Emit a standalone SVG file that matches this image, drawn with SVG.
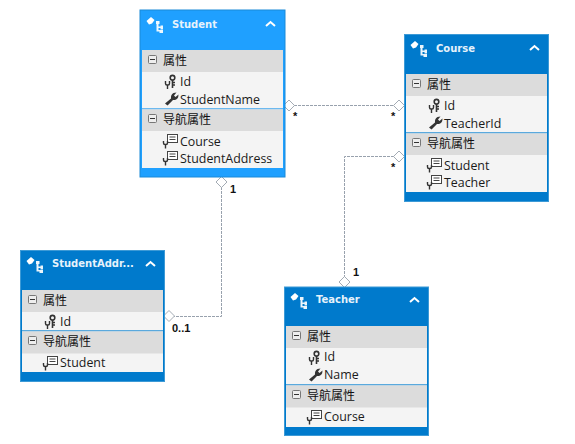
<svg xmlns="http://www.w3.org/2000/svg" width="575" height="444" viewBox="0 0 575 444">
<style>
text{font-family:"Open Sans","Noto Sans","Noto Sans CJK SC",sans-serif;font-size:12.4px;fill:#1a1a1a}
.cjk{font-family:"Noto Sans CJK SC",sans-serif;font-size:12px;fill:#111}
.t{font-family:"DejaVu Sans",sans-serif;font-weight:bold;font-size:10px;fill:#e6f2fb}
.m{font-family:"Liberation Sans",sans-serif;font-weight:bold;font-size:11px;fill:#111}
.body{fill:#f4f4f4}
.gray{fill:#dcdcdc}
.conn{fill:none;stroke:#98a1ad;stroke-width:1;stroke-dasharray:3 1}
.dia{fill:#fff;stroke:#a3abb4;stroke-width:1}
</style>
<defs>
<g id="ent"><path d="M0.500 4 L5 0 L8.500 3 L6 6.500 L3 7.500 Z" fill="#fff"/><path d="M10 4h3.500v3H12.500v2.500h2v-1h2.500v3.500h-2.500v-1H12.500v2h2v-0.500h2.500v3.500h-3.500v-1.500H10.500V7H10z" fill="#fff" opacity=".92"/></g>
<path id="chev" d="M0 5 L4.500 1 L9 5" fill="none" stroke="#fff" stroke-width="2"/>
<g id="minus"><rect x=".5" y=".5" width="8" height="8" rx="1" fill="#eee" stroke="#777"/><path d="M2 4.500h5" stroke="#333" stroke-width="1"/></g>
<g id="key"><circle cx="7.500" cy="2.700" r="2.300" fill="none" stroke="#333" stroke-width="1.600"/><path d="M7.500 5v8M7.500 10h2.500M7.500 7.500h2.500" stroke="#333" stroke-width="1.600" fill="none"/><path d="M0.500 6v2.500q0 1.500 1.500 1.500h1q1.500 0 1.500-1.500V6M2.500 10v4" stroke="#333" stroke-width="1.400" fill="none"/></g>
<path id="wrench" d="M0 11.500 L6 6.500 Q5.500 2.500 8.500 1 L11.500 0.500 L9 3.500 L10.500 5 L13.500 2.500 Q13.500 7 10 8 L8 8 L2.500 13.500 Z" fill="#333"/>
<g id="nav"><rect x="4.500" y=".5" width="10" height="8" fill="#fff" stroke="#444"/><path d="M6.500 3h6M6.500 5.500h6" stroke="#444"/><path d="M.5 7v2q0 1.500 1.500 1.500h1q1.500 0 1.500-1.500V7M2.500 10.500v4" stroke="#333" stroke-width="1.400" fill="none"/></g>
<path id="dmd" d="M-5.500 0 L0 -5.500 L5.500 0 L0 5.500 Z"/>
</defs>

<g id="connectors">
<path class="conn" d="M294 105.500H394"/>
<path class="conn" d="M394 156.500H344.500V277"/>
<path class="conn" d="M221.500 187V316.500H174"/>
<use href="#dmd" class="dia" x="289" y="105.500"/>
<use href="#dmd" class="dia" x="399" y="105.500"/>
<use href="#dmd" class="dia" x="399" y="156.500"/>
<use href="#dmd" class="dia" x="344.500" y="282"/>
<use href="#dmd" class="dia" x="221.500" y="182"/>
<use href="#dmd" class="dia" x="169" y="316"/>
<text class="m" x="293" y="120">*</text>
<text class="m" x="391" y="120">*</text>
<text class="m" x="391" y="171">*</text>
<text class="m" x="230" y="193">1</text>
<text class="m" x="172" y="332">0..1</text>
<text class="m" x="353" y="276">1</text>
</g>

<g id="student">
<rect x="140" y="10" width="145" height="167" fill="#1fa0ff" stroke="#1b8ad8"/>
<rect class="body" x="142" y="50" width="141" height="118"/>
<rect class="gray" x="142" y="50" width="141" height="22"/>
<rect x="142" y="108" width="141" height="1.500" fill="#6db9ef"/>
<rect class="gray" x="142" y="109.500" width="141" height="21.500"/>
<use href="#ent" x="146" y="17"/>
<text class="t" x="172" y="28">Student</text>
<use href="#chev" x="266" y="21"/>
<use href="#minus" x="148" y="55"/>
<text class="cjk" x="163" y="64.500">属性</text>
<use href="#key" x="165" y="75"/>
<text x="180" y="86">Id</text>
<use href="#wrench" x="165" y="92"/>
<text x="180" y="104">StudentName</text>
<use href="#minus" x="148" y="114"/>
<text class="cjk" x="163" y="124">导航属性</text>
<use href="#nav" x="163" y="134"/>
<text x="180" y="146">Course</text>
<use href="#nav" x="163" y="151"/>
<text x="180" y="163">StudentAddress</text>
</g>

<g id="course">
<rect x="404.500" y="34.500" width="144" height="167" fill="#007acc" stroke="#3d9ad6"/>
<rect class="body" x="406" y="74" width="141" height="118"/>
<rect class="gray" x="406" y="74" width="141" height="22"/>
<rect x="406" y="132" width="141" height="1.500" fill="#5aa9dd"/>
<rect class="gray" x="406" y="133.500" width="141" height="21.500"/>
<use href="#ent" x="410" y="41"/>
<text class="t" x="436" y="52">Course</text>
<use href="#chev" x="530" y="45"/>
<use href="#minus" x="412" y="79"/>
<text class="cjk" x="427" y="88.500">属性</text>
<use href="#key" x="429" y="99"/>
<text x="444" y="110">Id</text>
<use href="#wrench" x="429" y="116"/>
<text x="444" y="128">TeacherId</text>
<use href="#minus" x="412" y="138"/>
<text class="cjk" x="427" y="148">导航属性</text>
<use href="#nav" x="427" y="158"/>
<text x="444" y="170">Student</text>
<use href="#nav" x="427" y="175"/>
<text x="444" y="187">Teacher</text>
</g>

<g id="studentaddress">
<rect x="20.500" y="250.500" width="144" height="131" fill="#007acc" stroke="#3d9ad6"/>
<rect class="body" x="22" y="290" width="141" height="82"/>
<rect class="gray" x="22" y="290" width="141" height="22"/>
<rect x="22" y="330" width="141" height="1.500" fill="#5aa9dd"/>
<rect class="gray" x="22" y="331.500" width="141" height="22"/>
<use href="#ent" x="26" y="257"/>
<text class="t" x="52" y="267">StudentAddr...</text>
<use href="#chev" x="146" y="261"/>
<use href="#minus" x="28" y="295"/>
<text class="cjk" x="43" y="304.500">属性</text>
<use href="#key" x="45" y="315"/>
<text x="60" y="325.500">Id</text>
<use href="#minus" x="28" y="336"/>
<text class="cjk" x="43" y="346">导航属性</text>
<use href="#nav" x="43" y="356"/>
<text x="60" y="367">Student</text>
</g>

<g id="teacher">
<rect x="284.500" y="287" width="144" height="148.500" fill="#007acc" stroke="#3d9ad6"/>
<rect class="body" x="286" y="326" width="141" height="101"/>
<rect class="gray" x="286" y="326" width="141" height="22"/>
<rect x="286" y="384" width="141" height="1.500" fill="#5aa9dd"/>
<rect class="gray" x="286" y="385.500" width="141" height="22"/>
<use href="#ent" x="290" y="293"/>
<text class="t" x="316" y="303">Teacher</text>
<use href="#chev" x="410" y="297"/>
<use href="#minus" x="292" y="331"/>
<text class="cjk" x="307" y="340.500">属性</text>
<use href="#key" x="309" y="351"/>
<text x="324" y="361">Id</text>
<use href="#wrench" x="309" y="368"/>
<text x="324" y="379">Name</text>
<use href="#minus" x="292" y="390"/>
<text class="cjk" x="307" y="399.500">导航属性</text>
<use href="#nav" x="307" y="410"/>
<text x="324" y="421">Course</text>
</g>
</svg>
